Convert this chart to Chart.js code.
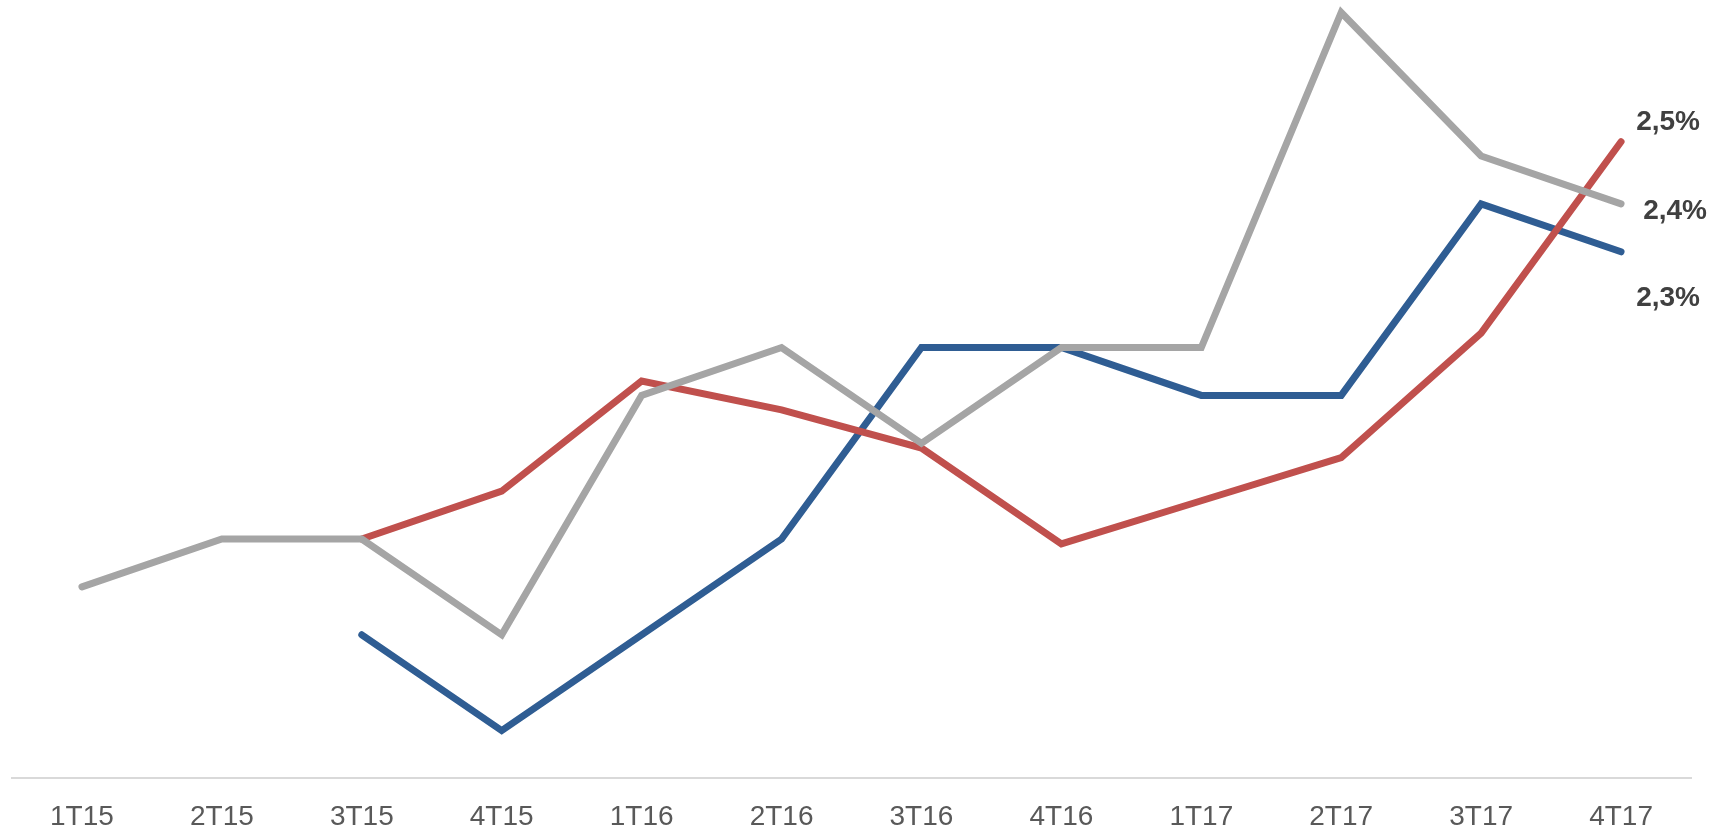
<!DOCTYPE html>
<html>
<head>
<meta charset="utf-8">
<script src="https://cdn.jsdelivr.net/npm/chart.js@4.4.1/dist/chart.umd.min.js"></script>
<style>
    html, body { margin: 0; padding: 0; background: #fff; overflow: hidden; }
    #wrap { position: relative; width: 1727px; height: 828px; }
</style>
</head>
<body>
<div id="wrap"><canvas id="lineChart"></canvas></div>
<script>
// ─── Data ───
const quarters = ['1T15', '2T15', '3T15', '4T15', '1T16', '2T16', '3T16', '4T16', '1T17', '2T17', '3T17', '4T17'];
const greySeries = [1.6, 1.7, 1.7, 1.5, 2.0, 2.1, 1.9, 2.1, 2.1, 2.8, 2.5, 2.4];
const redSeries  = [null, null, 1.7, 1.8, 2.03, 1.97, 1.89, 1.69, 1.78, 1.87, 2.13, 2.53];
const blueSeries = [null, null, 1.5, 1.3, 1.5, 1.7, 2.1, 2.1, 2.0, 2.0, 2.4, 2.3];

// end label offsets (px) from last point, per dataset
const endLabelOffsets = [[54, 7], [47, -19], [47, 46]];

const endLabels = {
    id: 'endLabels',
    afterDatasetsDraw(chart) {
        const c = chart.ctx;
        c.save();
        c.font = 'bold 28px "Liberation Sans", Arial, sans-serif';
        c.fillStyle = '#404040';
        c.textAlign = 'center';
        c.textBaseline = 'middle';
        chart.data.datasets.forEach((ds, i) => {
            const meta = chart.getDatasetMeta(i);
            const last = ds.data.length - 1;
            const pt = meta.data[last];
            const v = ds.data[last];
            const txt = v.toFixed(1).replace('.', ',') + '%';
            c.fillText(txt, pt.x + endLabelOffsets[i][0], pt.y + endLabelOffsets[i][1]);
        });
        c.restore();
    }
};

const lineStyle = {
    borderWidth: 7,
    borderCapStyle: 'round',
    borderJoinStyle: 'miter',
    pointRadius: 0,
    fill: false,
    tension: 0,
    spanGaps: false
};

new Chart(document.getElementById('lineChart').getContext('2d'), {
    type: 'line',
    data: {
        labels: quarters,
        datasets: [
            { label: 'grey', data: greySeries, borderColor: '#A5A5A5', ...lineStyle },
            { label: 'red',  data: redSeries,  borderColor: '#C0504D', ...lineStyle },
            { label: 'blue', data: blueSeries, borderColor: '#2F5D93', ...lineStyle }
        ]
    },
    options: {
        responsive: true,
        maintainAspectRatio: false,
        animation: false,
        layout: { padding: { left: 12, right: 36, top: 0, bottom: -28 } },
        scales: {
            x: {
                offset: true,
                grid: { display: false, drawTicks: false },
                border: { display: true, color: '#D9D9D9', width: 2 },
                ticks: {
                    padding: 22,
                    color: '#595959',
                    font: { family: '"Liberation Sans", Arial, sans-serif', size: 28 },
                    maxRotation: 0,
                    autoSkip: false
                }
            },
            y: {
                display: false,
                min: 1.2,
                max: 2.826
            }
        },
        plugins: {
            legend: { display: false },
            tooltip: { enabled: false }
        }
    },
    plugins: [endLabels]
});
</script>
</body>
</html>
